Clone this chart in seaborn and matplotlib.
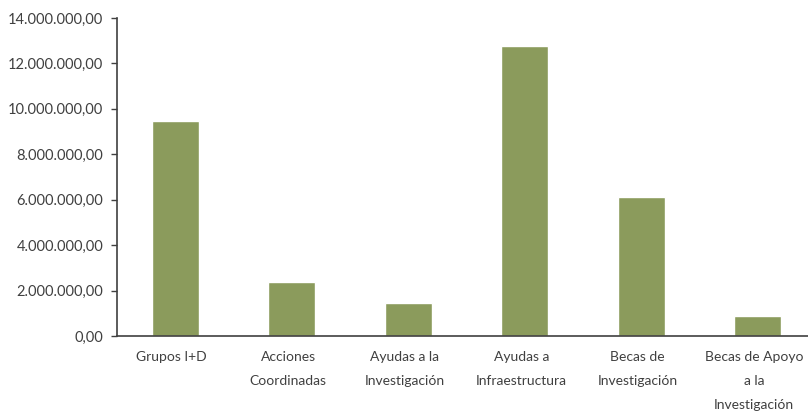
import matplotlib
matplotlib.use("Agg")
import matplotlib.pyplot as plt
import matplotlib.ticker as mticker
import seaborn as sns
import pandas as pd
import numpy as np

categorias = ["Grupos I+D", "Acciones\nCoordinadas", "Ayudas a la\nInvestigación",
              "Ayudas a\nInfraestructura", "Becas de\nInvestigación",
              "Becas de Apoyo\na la\nInvestigación"]
importes = [9450000, 2380000, 1450000, 12770000, 6120000, 880000]

sns.set_style("white")
plt.rcParams['font.family'] = ['Lato', 'DejaVu Sans']

df = pd.DataFrame({"cat": categorias, "valor": importes})

fig = plt.figure(figsize=(8.08, 4.12), dpi=100)
ax = fig.add_axes([117/808, (412-336)/412, 699/808, 318/412])
sns.barplot(data=df, x="cat", y="valor", color="#8b9b5c", saturation=1,
            width=0.4, ax=ax)

ax.set_ylim(0, 14000000)
ax.set_xlim(-0.5, 5.5)
ax.yaxis.set_major_locator(mticker.MultipleLocator(2000000))
def fmt(v, pos):
    s = f"{v:,.2f}"
    return s.replace(",", "X").replace(".", ",").replace("X", ".")
ax.yaxis.set_major_formatter(mticker.FuncFormatter(fmt))

ax.set_xticks(np.arange(len(categorias)) - 0.03)
ax.set_xticklabels(categorias, linespacing=2.2, va="top")
ax.set_xticks(np.arange(len(categorias)) - 0.5, minor=True)
ax.tick_params(axis="x", which="major", length=0, pad=11, labelsize=10, colors="#404040")
ax.tick_params(axis="x", which="minor", length=4, width=1, color="#404040", direction="out")
ax.tick_params(axis="y", length=4, width=1, color="#404040", labelsize=10.5,
               labelcolor="#404040", left=True, pad=6)
ax.set_xlabel("")
ax.set_ylabel("")
for s in ["top", "right"]:
    ax.spines[s].set_visible(False)
for s in ["left", "bottom"]:
    ax.spines[s].set_color("#404040")
    ax.spines[s].set_linewidth(1.2)

fig.savefig("out.png", dpi=100)
